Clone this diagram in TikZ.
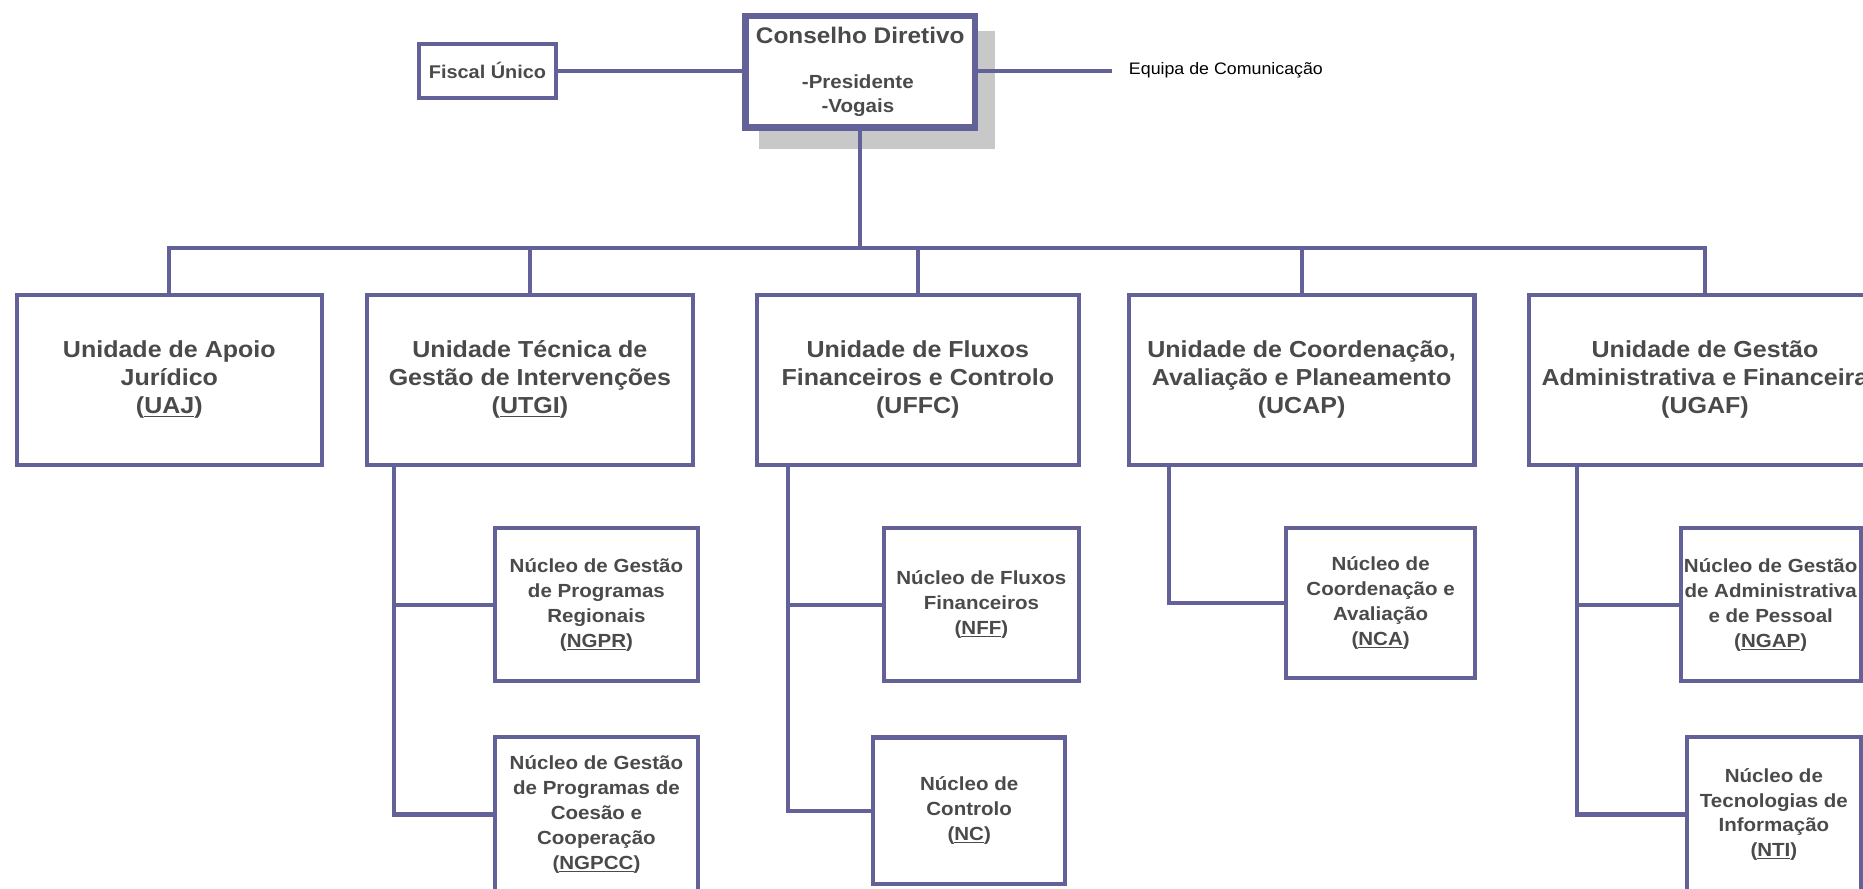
\documentclass[tikz,border=0pt]{standalone}
\usepackage{fontspec}
\setmainfont{Liberation Sans}[FakeStretch=1.08]
\newfontfamily\plainfont{Liberation Sans}[FakeStretch=1.07]
\definecolor{ln}{RGB}{98,98,152}
\definecolor{tx}{RGB}{74,74,74}
\definecolor{sh}{RGB}{200,200,200}
\begin{document}
\begin{tikzpicture}[x=1pt,y=-1pt,
  box/.style={draw=ln, line width=3.4pt, fill=white, rectangle, inner sep=0pt, outer sep=0pt, align=center, text=tx},
  unit/.style={box, font=\bfseries\fontsize{19.5}{23.8}\selectfont},
  nuc/.style={box, font=\bfseries\fontsize{16}{21}\selectfont},
  conn/.style={draw=ln, line width=3.4pt, line join=miter},
  plaintext/.style={inner sep=0pt, outer sep=0pt, align=center, text=tx},
]
\useasboundingbox (0,0) rectangle (1568,748);

% Conselho Diretivo with shadow
\fill[sh] (639,25.7) rectangle (837.5,125);
\node[box, line width=5.5pt, minimum width=193, minimum height=94] (cd) at (724,60.4) {};
\node[plaintext, font=\bfseries\fontsize{19}{23}\selectfont] (cdt) at (724,30) {Conselho Diretivo};
\node[plaintext, font=\bfseries\fontsize{16}{20.5}\selectfont] (cdm) at (722,80.5) {-Presidente\\-Vogais};

% Fiscal Unico
\node[box, minimum width=115, minimum height=45.6, font=\bfseries\fontsize{15.5}{18}\selectfont] (fu) at (410.3,59.5) {Fiscal Único};
\draw[conn] (fu.east) -- (fu.east -| cd.west);

% Equipa de Comunicacao
\coordinate (eqend) at (936,59.5);
\draw[conn] (cd.east |- eqend) -- (eqend);
\node[anchor=west, inner sep=0pt, text=black, font=\plainfont\fontsize{14}{16}\selectfont] (eq) at (950,59.5) {Equipa de Comunicação};

% Units
\node[unit, minimum width=257, minimum height=143] (uaj) at (142.5,319.5) {Unidade de Apoio\\Jurídico\\(\underline{UAJ})};
\node[unit, minimum width=274, minimum height=143] (utgi) at (446,319.5) {Unidade Técnica de\\Gestão de Intervenções\\(\underline{UTGI})};
\node[unit, minimum width=271, minimum height=143] (uffc) at (772.5,319.5) {Unidade de Fluxos\\Financeiros e Controlo\\(UFFC)};
\node[unit, minimum width=291, minimum height=143] (ucap) at (1095.5,319.5) {Unidade de Coordenação,\\Avaliação e Planeamento\\(UCAP)};
\node[unit, minimum width=296, minimum height=143] (ugaf) at (1435,319.5) {Unidade de Gestão\\Administrativa e Financeira\\(UGAF)};

% Bus
\coordinate (bus) at (724,208.5);
\draw[conn] (cd.south) -- (bus);
\draw[conn] (uaj.north) -- (uaj.north |- bus) -- (ugaf.north |- bus) -- (ugaf.north);
\draw[conn] (utgi.north) -- (utgi.north |- bus);
\draw[conn] (uffc.north) -- (uffc.north |- bus);
\draw[conn] (ucap.north) -- (ucap.north |- bus);

% Nucleos
\node[nuc, minimum width=171, minimum height=128.6] (ngpr) at (502,509) {Núcleo de Gestão\\de Programas\\Regionais\\(\underline{NGPR})};
\node[nuc, minimum width=171, minimum height=131] (ngpcc) at (502,685.5) {Núcleo de Gestão\\de Programas de\\Coesão e\\Cooperação\\(\underline{NGPCC})};
\node[nuc, minimum width=164.6, minimum height=128.6] (nff) at (826,509) {Núcleo de Fluxos\\Financeiros\\(\underline{NFF})};
\node[nuc, minimum width=162, minimum height=123.6] (nc) at (815.7,682.5) {Núcleo de\\Controlo\\(\underline{NC})};
\node[nuc, minimum width=158.6, minimum height=125.6] (nca) at (1162,507.5) {Núcleo de\\Coordenação e\\Avaliação\\(\underline{NCA})};
\node[nuc, minimum width=151.3, minimum height=128.6] (ngap) at (1490.3,509) {Núcleo de Gestão\\de Administrativa\\e de Pessoal\\(\underline{NGAP})};
\node[nuc, minimum width=146.3, minimum height=131] (nti) at (1493,685.5) {Núcleo de\\Tecnologias de\\Informação\\(\underline{NTI})};

% Sub-trees
\coordinate (s1) at (332,391);
\draw[conn] (s1) |- (ngpcc.west);
\draw[conn] (ngpr.west) -- (ngpr.west -| s1);
\coordinate (s2) at (663,391);
\draw[conn] (s2) |- (nc.west);
\draw[conn] (nff.west) -- (nff.west -| s2);
\coordinate (s3) at (984,391);
\draw[conn] (s3) |- (nca.west);
\coordinate (s4) at (1327,391);
\draw[conn] (s4) |- (nti.west);
\draw[conn] (ngap.west) -- (ngap.west -| s4);
\end{tikzpicture}
\end{document}
